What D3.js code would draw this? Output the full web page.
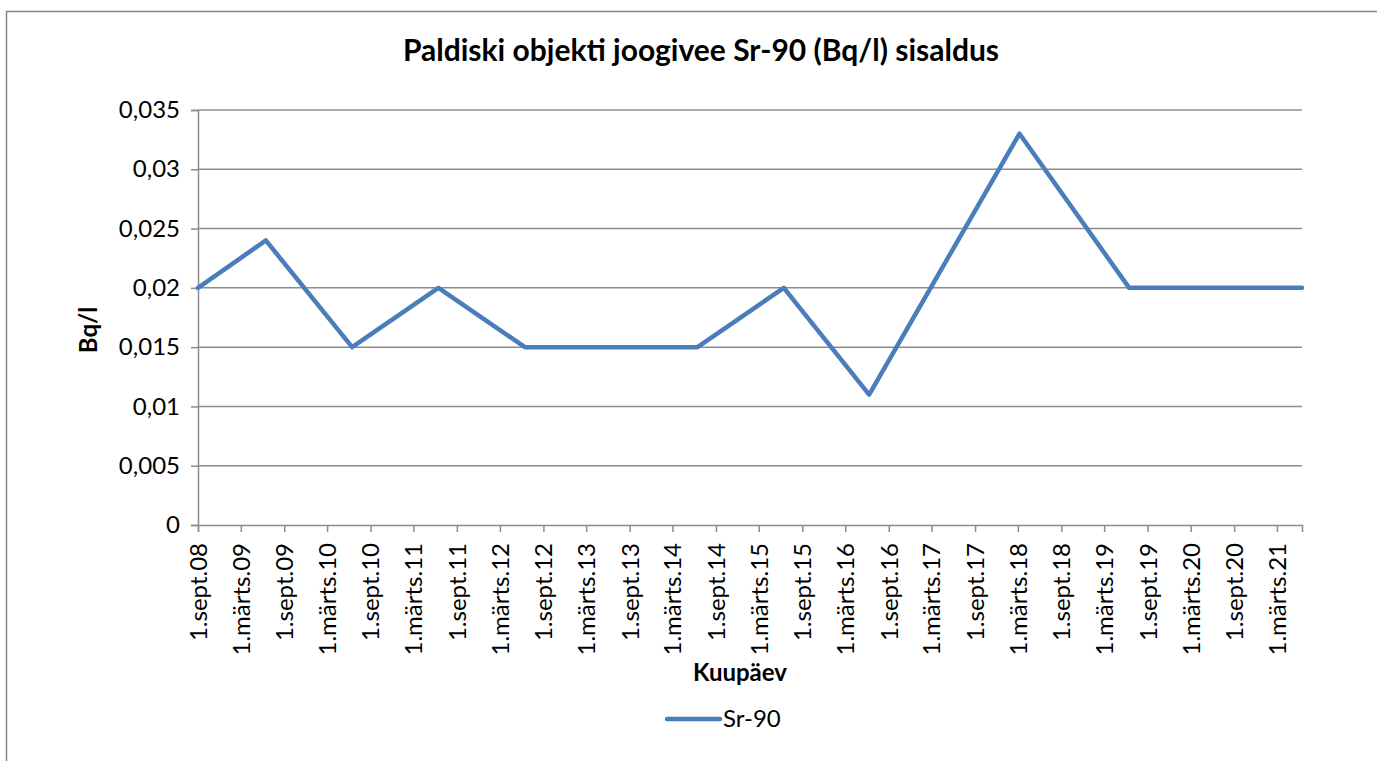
<!DOCTYPE html>
<html>
<head>
<meta charset="utf-8">
<script src="https://cdn.jsdelivr.net/npm/d3@7"></script>
<style>
  body { margin: 0; background: #fff; }
  svg { font-family: Lato, "Noto Sans", sans-serif; }
</style>
</head>
<body>
<div id="chart"></div>
<script>
// Chart size
var width = 1377, height = 761;
var font = "Lato, 'Noto Sans', sans-serif";

// Measurement dates and Sr-90 values (Bq/l)
var dates = ["2008-09-01", "2009-06-15", "2010-06-15", "2011-06-15", "2012-06-15",
             "2013-06-15", "2014-06-15", "2015-06-15", "2016-06-10", "2018-03-08",
             "2019-06-15", "2020-06-15", "2021-06-15"];
var values = [0.02, 0.024, 0.015, 0.02, 0.015, 0.015, 0.015, 0.02, 0.011, 0.033, 0.02, 0.02, 0.02];

// Axis ticks
var tickDates = ["2008-09-01", "2009-03-01", "2009-09-01", "2010-03-01", "2010-09-01", "2011-03-01",
                 "2011-09-01", "2012-03-01", "2012-09-01", "2013-03-01", "2013-09-01", "2014-03-01",
                 "2014-09-01", "2015-03-01", "2015-09-01", "2016-03-01", "2016-09-01", "2017-03-01",
                 "2017-09-01", "2018-03-01", "2018-09-01", "2019-03-01", "2019-09-01", "2020-03-01",
                 "2020-09-01", "2021-03-01"];
var yTicks = [0, 0.005, 0.01, 0.015, 0.02, 0.025, 0.03, 0.035];
var monthNames = {3: "märts", 9: "sept"};

var parse = d3.timeParse("%Y-%m-%d");
var data = dates.map((d, i) => ({date: parse(d), value: values[i]}));

var margin = {left: 198, right: 75, top: 110, bottom: 236};

var x = d3.scaleTime()
    .domain([parse(dates[0]), parse(dates[dates.length - 1])])
    .range([margin.left, width - margin.right]);

var y = d3.scaleLinear()
    .domain([0, 0.035])
    .range([height - margin.bottom, margin.top]);

var svg = d3.select("#chart").append("svg")
    .attr("width", width)
    .attr("height", height);

// Chart area border
svg.append("rect")
    .attr("x", 6.5).attr("y", 11.5)
    .attr("width", width + 10).attr("height", height + 10)
    .attr("fill", "none").attr("stroke", "#868686").attr("stroke-width", 1.5);

// Title
svg.append("text")
    .attr("x", 701).attr("y", 61)
    .attr("text-anchor", "middle")
    .style("font-size", "30px").style("font-weight", "bold")
    .text("Paldiski objekti joogivee Sr-90 (Bq/l) sisaldus");

// Gridlines
svg.append("g")
    .selectAll("line")
    .data(yTicks.slice(1))
    .join("line")
    .attr("x1", margin.left).attr("x2", width - margin.right)
    .attr("y1", d => y(d)).attr("y2", d => y(d))
    .attr("stroke", "#8c8c8c").attr("stroke-width", 1.5);

// Y axis
var yAxis = svg.append("g")
    .attr("transform", `translate(${margin.left},0)`)
    .call(d3.axisLeft(y).tickValues(yTicks).tickSize(7).tickPadding(11)
        .tickFormat(d => d === 0 ? "0" : String(+d.toFixed(3)).replace(".", ",")))
    .attr("font-family", font);
yAxis.select(".domain").attr("stroke", "#8c8c8c").attr("stroke-width", 1.5);
yAxis.selectAll(".tick line").attr("stroke", "#8c8c8c").attr("stroke-width", 1.5);
yAxis.selectAll("text").style("font-size", "24px").attr("fill", "#000");

// X axis
var xAxis = svg.append("g")
    .attr("transform", `translate(0,${height - margin.bottom})`)
    .call(d3.axisBottom(x).tickValues(tickDates.map(parse)).tickSize(7)
        .tickFormat(d => "1." + monthNames[d.getMonth() + 1] + "." + d3.timeFormat("%y")(d)))
    .attr("font-family", font);
xAxis.select(".domain").attr("stroke", "#8c8c8c").attr("stroke-width", 1.5);
xAxis.selectAll(".tick line").attr("stroke", "#8c8c8c").attr("stroke-width", 1.5);
xAxis.selectAll("text")
    .style("font-size", "24px").attr("fill", "#000")
    .attr("text-anchor", "end")
    .attr("transform", "rotate(-90)")
    .attr("x", -18).attr("y", 0).attr("dy", "0.35em");

// Axis titles
svg.append("text")
    .attr("transform", "translate(97,330) rotate(-90)")
    .attr("text-anchor", "middle")
    .style("font-size", "24px").style("font-weight", "bold")
    .text("Bq/l");

svg.append("text")
    .attr("x", 740).attr("y", 681)
    .attr("text-anchor", "middle")
    .style("font-size", "24px").style("font-weight", "bold")
    .text("Kuupäev");

// Series line
var line = d3.line()
    .x(d => x(d.date))
    .y(d => y(d.value));

svg.append("path")
    .datum(data)
    .attr("d", line)
    .attr("fill", "none")
    .attr("stroke", "#4a7ebb")
    .attr("stroke-width", 4.5)
    .attr("stroke-linejoin", "round")
    .attr("stroke-linecap", "round");

// Legend
var legend = svg.append("g");
legend.append("line")
    .attr("x1", 667).attr("x2", 720).attr("y1", 719).attr("y2", 719)
    .attr("stroke", "#4a7ebb").attr("stroke-width", 4.5).attr("stroke-linecap", "round");
legend.append("text")
    .attr("x", 723).attr("y", 727)
    .style("font-size", "24px")
    .text("Sr-90");
</script>
</body>
</html>
